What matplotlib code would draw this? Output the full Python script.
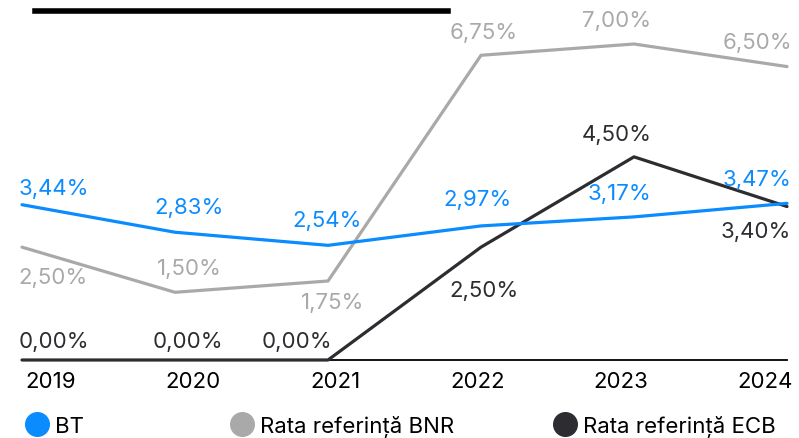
import matplotlib
matplotlib.use("Agg")
import matplotlib.pyplot as plt
from matplotlib.lines import Line2D

plt.rcParams['font.family'] = ['Inter', 'DejaVu Sans']

years = ["2019", "2020", "2021", "2022", "2023", "2024"]
bt = [3.44, 2.83, 2.54, 2.97, 3.17, 3.47]
bnr = [2.50, 1.50, 1.75, 6.75, 7.00, 6.50]
ecb = [0.00, 0.00, 0.00, 2.50, 4.50, 3.40]
series_names = ["BT", "Rata referință BNR", "Rata referință ECB"]
colors = ["#0a8cff", "#a9a9a9", "#2c2c31"]

# label offsets in pixels (dx, dy) relative to each point
bt_off = [(32, 17), (14, 25), (-1, 25), (-4, 27), (-15, 24), (-30, 24)]
bnr_off = [(31, -30), (14, 24), (5, -21), (3, 23), (-17, 24), (-30, 25)]
ecb_off = [(32, 19), (13, 19), (-31, 19), (3, -43), (-17, 23), (-31, -24)]

W, H = 799, 439
fig = plt.figure(figsize=(W / 100, H / 100), dpi=100)
ax = fig.add_axes([22 / W, (H - 361) / H, (787 - 22) / W, (361 - 45) / H])
x = list(range(len(years)))
ax.set_xlim(0, 5)
ax.set_ylim(0, 7)

lw = 2.3
ax.plot(x, bnr, color=colors[1], lw=lw, clip_on=False, solid_capstyle='round', zorder=3)
ax.plot(x, ecb, color=colors[2], lw=lw, clip_on=False, solid_capstyle='round', zorder=4)
ax.plot(x, bt, color=colors[0], lw=lw, clip_on=False, solid_capstyle='round', zorder=5)

fs = 16
def fmt(v):
    return f"{v:.2f}".replace(".", ",") + "%"

for vals, offs, c in [(bt, bt_off, colors[0]), (bnr, bnr_off, colors[1]), (ecb, ecb_off, colors[2])]:
    for i, (v, (dx, dy)) in enumerate(zip(vals, offs)):
        ax.annotate(fmt(v), xy=(i, v), xytext=(dx, dy), textcoords='offset pixels',
                    ha='center', va='center', fontsize=fs, color=c, zorder=6)

for s in ['top', 'right', 'left']:
    ax.spines[s].set_visible(False)
ax.spines['bottom'].set_linewidth(1.3)
ax.spines['bottom'].set_color('black')
ax.set_yticks([])
tick_px = [51, 193, 335, 478, 621, 765]
ax.set_xticks([(p - 22) / 153 for p in tick_px])
ax.set_xticklabels(years, fontsize=fs, color='black')
ax.tick_params(axis='x', length=0, pad=8)

# top black bar
fig.add_artist(Line2D([35 / W, 448 / W], [1 - 11.5 / H] * 2, lw=4, color='black',
                      transform=fig.transFigure))

# legends
legend_pos = [26 / W, 231 / W, 554 / W]
for name, c, px in zip(series_names, colors, legend_pos):
    h = Line2D([], [], marker='o', linestyle='none', markersize=17, color=c)
    lg = fig.legend([h], [name], loc='center left', bbox_to_anchor=(px, 1 - 427 / H),
                    frameon=False, fontsize=fs, handlelength=1.0, handletextpad=0.3,
                    borderpad=0, borderaxespad=0)

fig.savefig("out.png", dpi=100)
